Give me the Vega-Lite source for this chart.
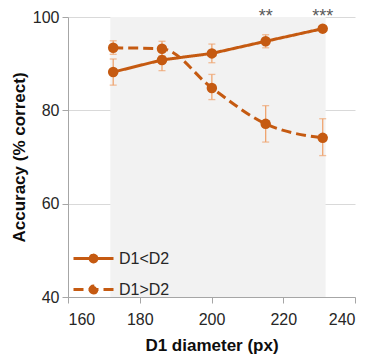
{
  "$schema": "https://vega.github.io/schema/vega-lite/v6.json",
  "width": 287,
  "height": 280,
  "autosize": {"type": "none"},
  "padding": {"left": 68, "top": 17, "right": 17, "bottom": 64},
  "background": "white",
  "config": {
    "view": {"stroke": null},
    "font": "Liberation Sans",
    "axis": {"labelFont": "Liberation Sans", "titleFont": "Liberation Sans"}
  },
  "datasets": {
    "pts": [
      {"cond": "D1<D2", "x": 172.6, "y": 88.2, "lo": 85.4, "hi": 91.0},
      {"cond": "D1<D2", "x": 186.2, "y": 90.8, "lo": 88.5, "hi": 93.0},
      {"cond": "D1<D2", "x": 200.1, "y": 92.2, "lo": 90.2, "hi": 94.2},
      {"cond": "D1<D2", "x": 215.1, "y": 94.8, "lo": 93.4, "hi": 96.2},
      {"cond": "D1<D2", "x": 231.0, "y": 97.5, "lo": 96.9, "hi": 98.1},
      {"cond": "D1>D2", "x": 172.6, "y": 93.4, "lo": 92.0, "hi": 94.9},
      {"cond": "D1>D2", "x": 186.2, "y": 93.2, "lo": 91.7, "hi": 94.8},
      {"cond": "D1>D2", "x": 200.1, "y": 84.8, "lo": 82.3, "hi": 87.7},
      {"cond": "D1>D2", "x": 215.1, "y": 77.1, "lo": 73.2, "hi": 81.0},
      {"cond": "D1>D2", "x": 231.0, "y": 74.1, "lo": 70.3, "hi": 78.2}
    ],
    "shade": [{"x1": 171.8, "x2": 231.8, "y1": 40, "y2": 100}],
    "stars": [
      {"x": 215.1, "y": 98.9, "label": "**"},
      {"x": 231.0, "y": 98.9, "label": "***"}
    ]
  },
  "layer": [
    {
      "data": {"name": "shade"},
      "mark": {"type": "rect", "fill": "#F2F2F2"},
      "encoding": {
        "x": {"field": "x1", "type": "quantitative", "scale": {"domain": [160, 240], "nice": false},
          "axis": {"values": [160, 180, 200, 220, 240], "title": "D1 diameter (px)", "grid": false,
            "domainColor": "#A6A6A6", "tickColor": "#A6A6A6", "tickSize": 6, "labelFontSize": 16,
            "labelColor": "#262626", "labelPadding": 8, "titleFontSize": 17, "titleFontWeight": "bold",
            "titleColor": "#0D0D0D", "titleBaseline": "alphabetic", "titleY": 53}},
        "x2": {"field": "x2"},
        "y": {"field": "y1", "type": "quantitative", "scale": {"domain": [40, 100], "nice": false},
          "axis": {"values": [40, 60, 80, 100], "title": "Accuracy (% correct)", "grid": true,
            "gridColor": "#D9D9D9", "domainColor": "#A6A6A6", "tickColor": "#A6A6A6", "tickSize": 6,
            "labelFontSize": 16, "labelColor": "#262626", "labelPadding": 3, "titleFontSize": 17,
            "titleFontWeight": "bold", "titleColor": "#0D0D0D", "titleBaseline": "alphabetic", "titleX": -44}},
        "y2": {"field": "y2"}
      }
    },
    {
      "data": {"name": "stars"},
      "mark": {"type": "text", "fontSize": 18, "color": "#595959", "baseline": "alphabetic"},
      "encoding": {
        "x": {"field": "x", "type": "quantitative", "title": "D1 diameter (px)"},
        "y": {"field": "y", "type": "quantitative", "title": "Accuracy (% correct)"},
        "text": {"field": "label"}
      }
    },
    {
      "data": {"name": "pts"},
      "mark": {"type": "errorbar", "color": "#EFA46F", "thickness": 1.3, "ticks": {"size": 7, "thickness": 1.3}},
      "encoding": {
        "x": {"field": "x", "type": "quantitative", "title": "D1 diameter (px)"},
        "y": {"field": "lo", "type": "quantitative", "title": "Accuracy (% correct)"},
        "y2": {"field": "hi"},
        "detail": {"field": "cond"}
      }
    },
    {
      "data": {"name": "pts"},
      "transform": [{"filter": "datum.cond == 'D1<D2'"}],
      "mark": {"type": "line", "color": "#C55A11", "strokeWidth": 3},
      "encoding": {
        "x": {"field": "x", "type": "quantitative", "title": "D1 diameter (px)"},
        "y": {"field": "y", "type": "quantitative", "title": "Accuracy (% correct)"},
        "strokeDash": {"field": "cond", "type": "nominal",
          "scale": {"domain": ["D1<D2", "D1>D2"], "range": [[1, 0], [10, 5]]},
          "legend": {"orient": "none", "legendX": 4, "legendY": 220, "title": null,
            "symbolType": "M-1,0H1M-0.17,0A0.17,0.17 0 1,0 0.17,0A0.17,0.17 0 1,0 -0.17,0",
            "symbolSize": 1600, "symbolStrokeColor": "#C55A11", "symbolFillColor": "#C55A11",
            "symbolStrokeWidth": 3, "labelFontSize": 16, "labelColor": "#262626", "labelOffset": 4,
            "rowPadding": -14, "labelFont": "Liberation Sans"}}
      }
    },
    {
      "data": {"name": "pts"},
      "transform": [{"filter": "datum.cond == 'D1>D2'"}],
      "mark": {"type": "line", "color": "#C55A11", "strokeWidth": 3, "interpolate": "monotone"},
      "encoding": {
        "x": {"field": "x", "type": "quantitative", "title": "D1 diameter (px)"},
        "y": {"field": "y", "type": "quantitative", "title": "Accuracy (% correct)"},
        "strokeDash": {"field": "cond", "type": "nominal"}
      }
    },
    {
      "data": {"name": "pts"},
      "mark": {"type": "point", "filled": true, "opacity": 1, "color": "#C55A11", "size": 110, "shape": "circle"},
      "encoding": {
        "x": {"field": "x", "type": "quantitative", "title": "D1 diameter (px)"},
        "y": {"field": "y", "type": "quantitative", "title": "Accuracy (% correct)"},
        "detail": {"field": "cond"}
      }
    }
  ]
}
